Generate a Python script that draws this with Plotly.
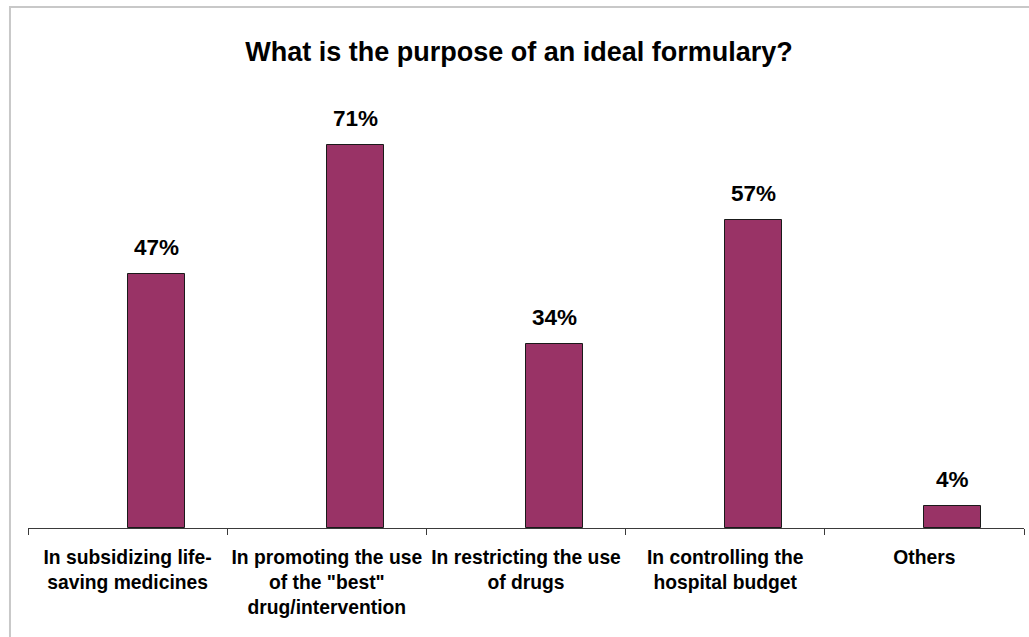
import plotly.graph_objects as go

# Survey responses: purpose of an ideal formulary
categories = [
    "In subsidizing life-<br>saving medicines",
    "In promoting the use<br>of the \"best\"<br>drug/intervention",
    "In restricting the use<br>of drugs",
    "In controlling the<br>hospital budget",
    "Others",
]
shares = [0.47, 0.71, 0.34, 0.57, 0.04]
share_labels = ["47%", "71%", "34%", "57%", "4%"]

FONT = "Arial, Liberation Sans, sans-serif"
BAR_COLOR = "#993366"
BAR_WIDTH = 0.286  # fraction of a category slot

fig = go.Figure()
fig.add_trace(go.Bar(
    x=categories,
    y=shares,
    width=BAR_WIDTH,
    offset=0,
    marker=dict(color=BAR_COLOR, line=dict(color="#1a1a1a", width=1)),
    hoverinfo="skip",
))

# value labels above each bar
for cat, val, lab in zip(categories, shares, share_labels):
    fig.add_annotation(
        x=cat, y=val, xref="x", yref="y",
        text=f"<b>{lab}</b>", showarrow=False,
        xshift=28.5, yshift=12, yanchor="bottom",
        font=dict(family=FONT, size=22.5, color="#000000"),
    )

# outer chart frame
fig.add_shape(
    type="rect", xref="paper", yref="paper",
    x0=-0.0181, x1=1.05, y0=-0.3, y1=1.206,
    line=dict(color="#c8c8c8", width=2), fillcolor="rgba(0,0,0,0)",
    layer="below",
)

fig.update_layout(
    width=1029, height=637,
    margin=dict(l=28, r=5, t=96, b=109),
    paper_bgcolor="white", plot_bgcolor="white",
    showlegend=False,
    title=dict(
        text="<b>What is the purpose of an ideal formulary?</b>",
        x=519 / 1029, xanchor="center", xref="container",
        y=1 - 52 / 637, yanchor="middle", yref="container",
        font=dict(family=FONT, size=27, color="#000000"),
    ),
    xaxis=dict(
        type="category",
        range=[-0.5, 4.5],
        showline=True, linecolor="#3a3a3a", linewidth=1,
        ticks="outside", tickson="boundaries", ticklen=6,
        tickcolor="#3a3a3a", tickwidth=1,
        tickangle=0, automargin=False,
        ticklabelstandoff=12,
        tickfont=dict(family=FONT, size=19.3, color="#000000"),
        showgrid=False, zeroline=False,
    ),
    yaxis=dict(
        range=[0, 0.8], visible=False, showgrid=False, zeroline=False,
    ),
    bargap=0,
)

fig.update_xaxes(ticktext=[f"<b>{c}</b>" for c in categories], tickvals=categories)

fig.write_html("out.html")
